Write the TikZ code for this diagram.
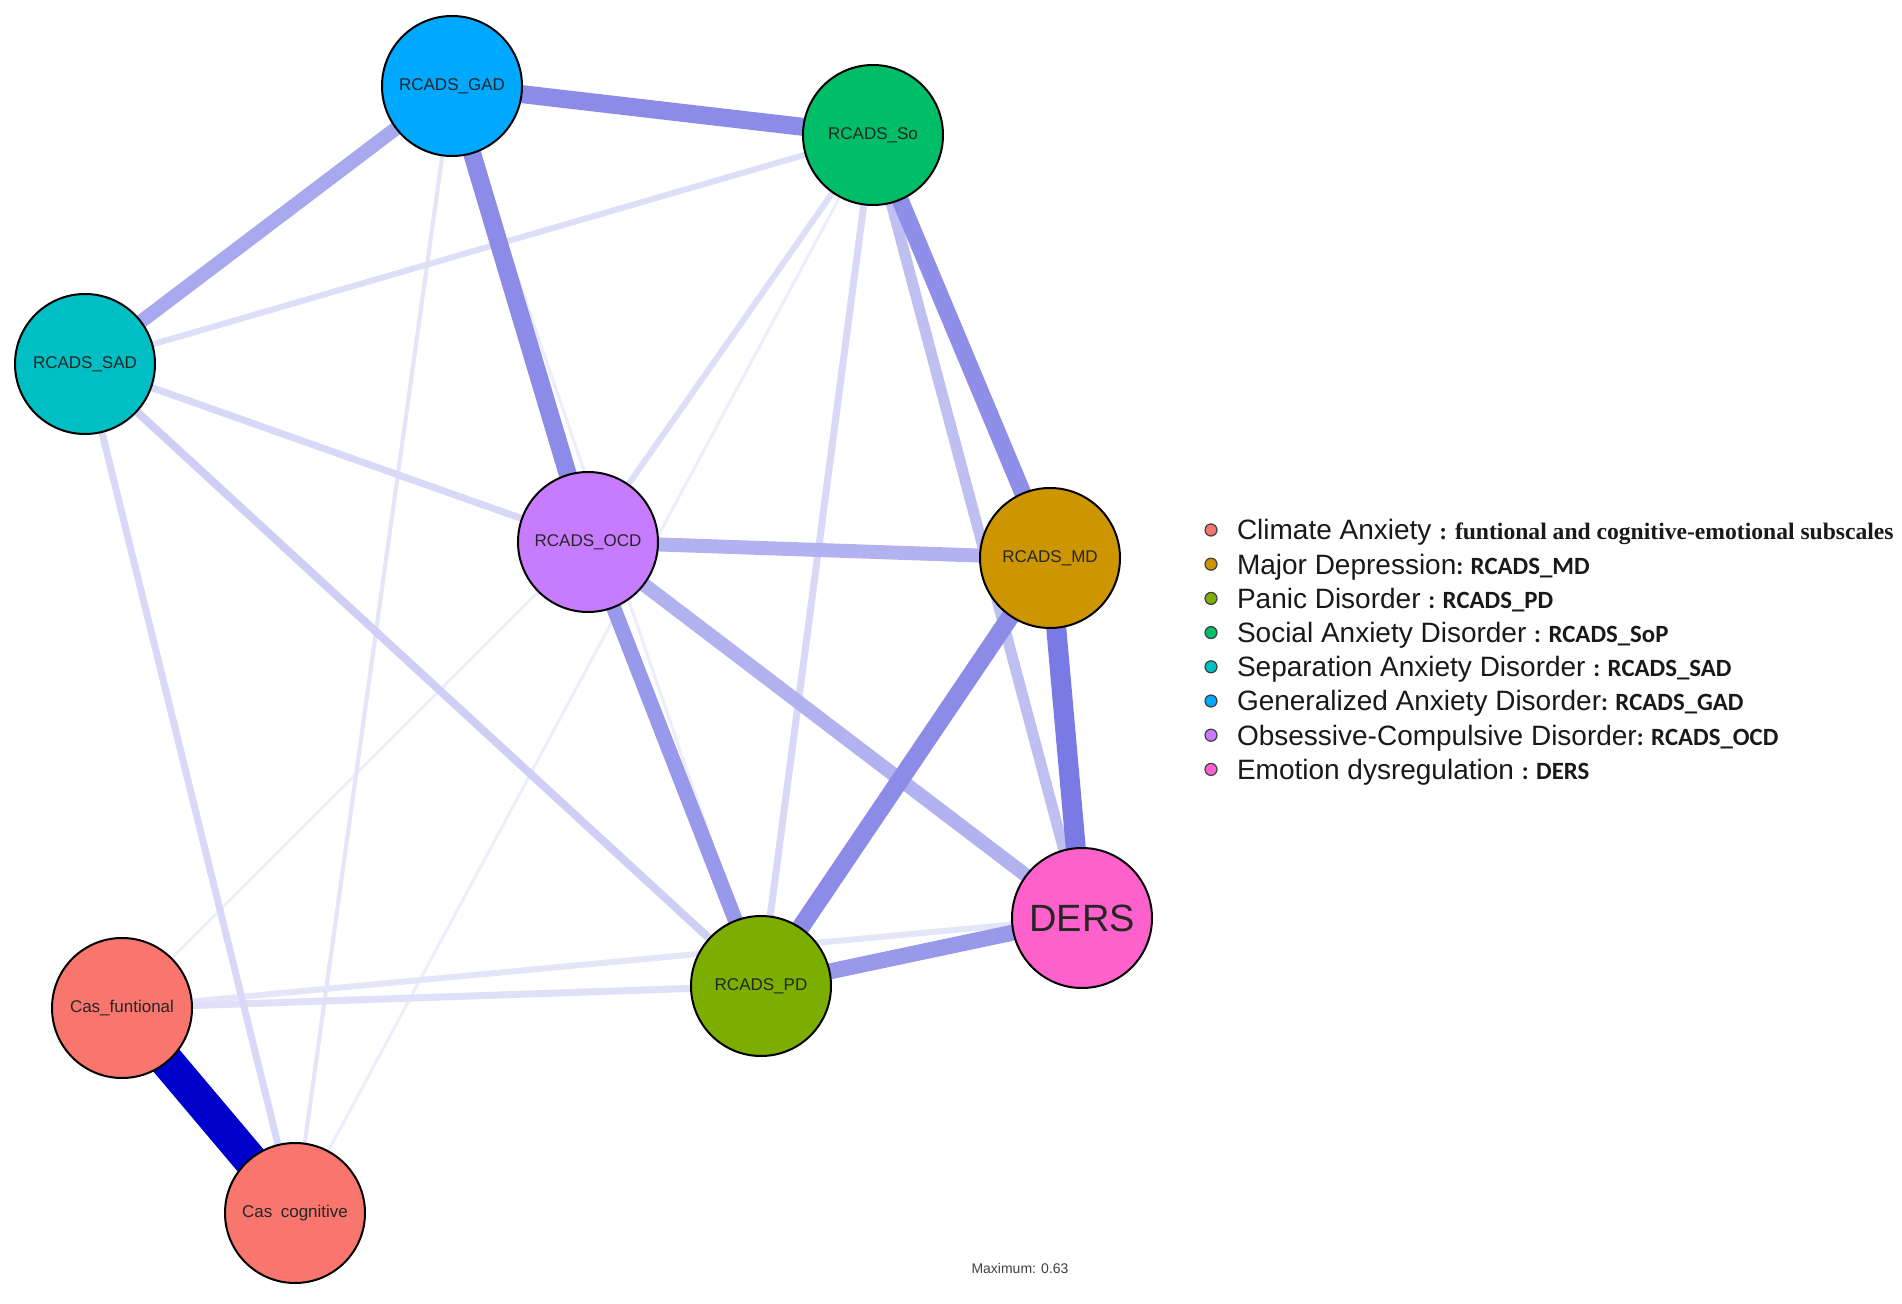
\documentclass[tikz,border=0pt]{standalone}
\usepackage{fontspec}
\setmainfont{Liberation Sans}
\newfontfamily\legsans{Carlito}
\newfontfamily\legserif{Liberation Serif}
\usetikzlibrary{
		positioning,
		backgrounds
	}
\definecolor{edgeblue}{HTML}{0000CC}
\definecolor{ccas}{HTML}{F8766D}
\definecolor{cmd}{HTML}{CD9600}
\definecolor{cpd}{HTML}{7CAE00}
\definecolor{cso}{HTML}{00BE67}
\definecolor{csad}{HTML}{00BFC4}
\definecolor{cgad}{HTML}{00A9FF}
\definecolor{cocd}{HTML}{C77CFF}
\definecolor{cders}{HTML}{FF61CC}
\tikzset{
		nd/.style={circle, draw=black, line width=1pt, minimum size=70pt, inner sep=0pt, text=black!85, font=\fontsize{8.5}{10}\selectfont},
		ed/.style 2 args={line width=#1pt, draw=edgeblue!#2!white},
		dot/.style={circle, draw=black!75, line width=.6pt, minimum size=6pt, inner sep=0pt},
		leg/.style={inner sep=0pt, text height=11pt, text depth=1pt, text=black!90, font=\fontsize{14}{16}\selectfont}
	}
\newcommand{\legcode}[1]{{\legsans\bfseries\fontsize{12.4}{14}\selectfont #1}}
\newcommand{\legnote}[1]{{\legserif\bfseries\fontsize{11.8}{14}\selectfont #1}}

\begin{document}
\begin{tikzpicture}[x=.5pt, y=-.5pt] % (one unit = one pixel of the page, y going down)
		\useasboundingbox (0,0) rectangle (1902,1304);
		\node[nd, fill=cgad] (gad) at (452,86) {RCADS\_GAD};
		\node[nd, fill=cso] (so) at (873,135) {RCADS\_So};
		\node[nd, fill=csad] (sad) at (85,364) {RCADS\_SAD};
		\node[nd, fill=cocd] (ocd) at (588,542) {RCADS\_OCD};
		\node[nd, fill=cmd] (md) at (1050,558) {RCADS\_MD};
		\node[nd, fill=cders, font=\fontsize{19}{22}\selectfont] (ders) at (1082,918) {DERS};
		\node[nd, fill=cpd] (pd) at (761,986) {RCADS\_PD};
		\node[nd, fill=ccas] (cf) at (122,1008) {Cas\_funtional};
		\node[nd, fill=ccas] (cc) at (295,1213) {Cas\enspace cognitive};
		\begin{pgfonlayer}{background}
			\fill[white] (0,0) rectangle (1902,1304);
			% edges: from/to/width/strength
			\foreach \a/\b/\w/\c in {
				gad/pd/1.5/7, so/cc/1.5/7, ocd/cf/1.5/7, gad/cc/2/10, cf/ders/3/10,
				cf/pd/3.5/12, sad/so/3/13, so/ocd/3/13, sad/ocd/3.5/15, so/pd/3.5/15,
				sad/cc/3.5/15, sad/pd/4/19, so/ders/5.5/25, ocd/md/7/30, ocd/ders/7/30,
				gad/sad/7/34, ocd/pd/7.5/40, pd/ders/8/40, so/md/8.5/44, md/pd/9/45,
				gad/so/9/45, gad/ocd/9/45, md/ders/10/52, cf/cc/17/100}
				\draw[ed={\w}{\c}] (\a.center) -- (\b.center);
		\end{pgfonlayer}
		% legend
		\foreach \col/\txt [count=\i from 0] in {
			ccas/{Climate Anxiety \legnote{: funtional and cognitive-emotional subscales}},
			cmd/{Major Depression\legcode{: RCADS\_MD}},
			cpd/{Panic Disorder \legcode{: RCADS\_PD}},
			cso/{Social Anxiety Disorder \legcode{: RCADS\_SoP}},
			csad/{Separation Anxiety Disorder \legcode{: RCADS\_SAD}},
			cgad/{Generalized Anxiety Disorder\legcode{: RCADS\_GAD}},
			cocd/{Obsessive-Compulsive Disorder\legcode{: RCADS\_OCD}},
			cders/{Emotion dysregulation \legcode{: DERS}}}{
			\node[dot, fill=\col] (dot\i) at (1211,{530+34.2*\i}) {};
			\node[leg, right=9.5pt of dot\i] (leg\i) {\txt};
		}
		\node[text=black!75, font=\fontsize{7}{8}\selectfont] (maxi) at (1020,1268) {Maximum: 0.63};
	\end{tikzpicture}
\end{document}
